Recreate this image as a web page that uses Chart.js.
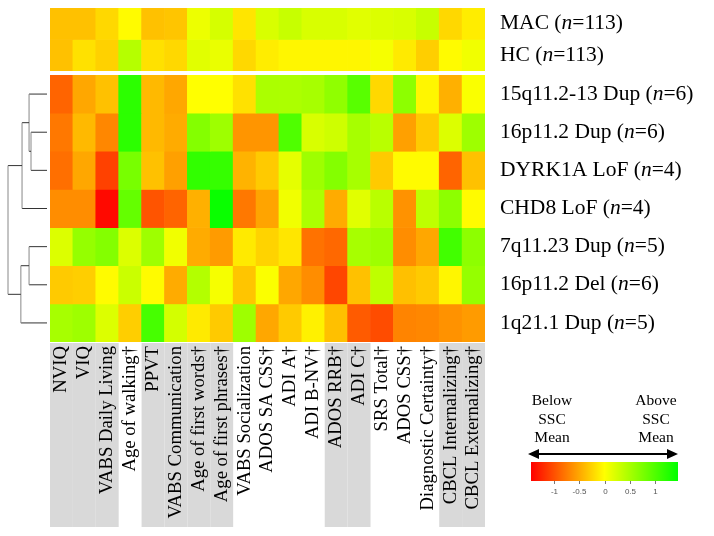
<!DOCTYPE html>
<html>
<head>
<meta charset="utf-8">
<script src="https://cdn.jsdelivr.net/npm/chart.js@4.4.1/dist/chart.umd.min.js"></script>
<style>
  body { margin: 0; background: #fff; }
  #wrap { position: relative; width: 714px; height: 536px; }
  canvas { position: absolute; left: 0; }
  #top { top: 0; }
  #bottom { top: 73px; }
</style>
</head>
<body>
<div id="wrap">
  <canvas id="top" width="714" height="73"></canvas>
  <canvas id="bottom" width="714" height="463"></canvas>
</div>
<script>
// Measures (heatmap columns)
const measures = [
  'NVIQ', 'VIQ', 'VABS Daily Living', 'Age of walking†', 'PPVT',
  'VABS Communication', 'Age of first words†', 'Age of first phrases†',
  'VABS Socialization', 'ADOS SA CSS†', 'ADI A†', 'ADI B-NV†', 'ADOS RRB†',
  'ADI C†', 'SRS Total†', 'ADOS CSS†', 'Diagnostic Certainty†',
  'CBCL Internalizing†', 'CBCL Externalizing†',
];
// domain grouping shown as grey bands behind the labels
const shadedMeasures = [1, 1, 1, 0, 1, 1, 1, 1, 0, 0, 0, 0, 1, 1, 0, 0, 0, 1, 1];

// Reference groups (top block)
const refGroups = ['MAC', 'HC'];
const refN = [113, 113];

// CNV / gene groups (bottom block, dendrogram order)
const cnvGroups = [
  '15q11.2-13 Dup', '16p11.2 Dup', 'DYRK1A LoF', 'CHD8 LoF',
  '7q11.23 Dup', '16p11.2 Del', '1q21.1 Dup',
];
const cnvN = [6, 6, 4, 4, 5, 6, 5];

// Difference from SSC mean (SD units), one value per measure
const mac    = [-0.35, -0.35, -0.22, -0.02, -0.35, -0.33, 0.10, 0.24, -0.15, 0.22, 0.32, 0.22, 0.22, 0.17, 0.20, 0.22, 0.32, -0.22, -0.10];
const hc     = [-0.35, -0.17, -0.26, 0.42, -0.17, -0.22, 0.17, 0.12, -0.22, -0.10, -0.05, -0.05, -0.05, -0.05, 0.05, -0.12, -0.28, -0.02, 0.08];
const dup15q = [-0.88, -0.50, -0.35, 1.20, -0.40, -0.50, 0.00, 0.00, -0.17, 0.48, 0.47, 0.50, 0.63, 0.95, -0.22, 0.65, -0.05, -0.45, 0.03];
const dup16p = [-0.77, -0.40, -0.68, 1.20, -0.40, -0.48, 0.70, 0.55, -0.60, -0.60, 1.00, 0.22, 0.28, 0.50, 0.40, -0.54, -0.30, 0.20, 0.55];
const dyrk1a = [-0.82, -0.50, -1.08, 0.77, -0.35, -0.54, 1.17, 1.15, -0.43, -0.30, 0.15, 0.55, 0.70, 0.50, -0.30, -0.02, -0.02, -0.88, -0.35];
const chd8   = [-0.65, -0.65, -1.40, 0.88, -0.97, -0.88, -0.45, 1.40, -0.77, -0.52, 0.08, 0.47, -0.48, 0.17, 0.40, -0.62, 0.37, 0.65, -0.02];
const dup7q  = [0.20, 0.60, 0.70, 0.20, 0.55, 0.08, -0.48, -0.57, -0.12, -0.25, -0.14, -0.80, -0.86, 0.50, 0.55, -0.65, -0.50, 1.08, 0.65];
const del16p = [-0.30, -0.28, -0.02, 0.30, -0.02, -0.48, 0.43, 0.05, -0.33, 0.02, -0.50, -0.65, -1.05, -0.35, 0.37, -0.36, -0.30, -0.05, 0.60];
const dup1q  = [0.50, 0.55, 0.20, -0.28, 1.05, 0.25, -0.12, -0.30, 0.55, -0.50, -0.30, -0.08, -0.36, -0.93, -1.02, -0.70, -0.68, -0.62, -0.57];

const refValues = [mac, hc];
const cnvValues = [dup15q, dup16p, dyrk1a, chd8, dup7q, del16p, dup1q];

// Hierarchical clustering of the CNV rows: [childA, childB, height]
// leaves are 0..6, each merge creates node 7, 8, ...
const linkage = [
  [1, 2, 0.41],
  [0, 7, 0.46],
  [8, 3, 0.64],
  [4, 5, 0.46],
  [10, 6, 0.67],
  [9, 11, 1.00],
];

// Colour key
const colorMin = -1.45;
const colorMax = 1.45;
const legendTicks = [-1, -0.5, 0, 0.5, 1];

const SERIF = "'Times New Roman', 'Liberation Serif', serif";

function heatColor(v) {
  if (v < 0) {
    const t = Math.min(1, v / colorMin);
    return `rgb(255, ${Math.round(255 * (1 - t))}, 0)`;
  }
  const t = Math.min(1, v / colorMax);
  return `rgb(${Math.round(255 * (1 - t))}, 255, 0)`;
}

// one floating-bar dataset per row, spanning [row, row + 1] on the y scale
function heatDatasets(rows) {
  return rows.map((vals, r) => ({
    data: vals.map(() => [r, r + 1]),
    backgroundColor: vals.map(heatColor),
    borderWidth: 0,
    grouped: false,
    barPercentage: 1,
    categoryPercentage: 1,
  }));
}

// Row labels with italic "n"
const rowLabelPlugin = {
  id: 'rowLabels',
  afterDraw(chart, args, opts) {
    const { ctx, chartArea, scales: { y } } = chart;
    ctx.save();
    ctx.fillStyle = '#000';
    ctx.textBaseline = 'middle';
    opts.names.forEach((name, r) => {
      let x = chartArea.right + 15;
      const yy = y.getPixelForValue(r + 0.5);
      const parts = [[name + ' (', ''], ['n', 'italic '], ['=' + opts.counts[r] + ')', '']];
      parts.forEach(([txt, style]) => {
        ctx.font = `${style}21.5px ${SERIF}`;
        ctx.fillText(txt, x, yy);
        x += ctx.measureText(txt).width;
      });
    });
    ctx.restore();
  },
};

// Grey bands behind the measure labels
const bandPlugin = {
  id: 'bands',
  beforeDraw(chart) {
    const { ctx, chartArea, scales: { x } } = chart;
    const w = x.getPixelForValue(1) - x.getPixelForValue(0);
    ctx.save();
    ctx.fillStyle = '#d9d9d9';
    shadedMeasures.forEach((s, i) => {
      if (!s) return;
      const cx = x.getPixelForValue(i);
      ctx.fillRect(cx - w / 2, chartArea.bottom + 1, w, 184);
    });
    ctx.restore();
  },
};

// Dendrogram on the left of the CNV block
const dendroPlugin = {
  id: 'dendro',
  afterDraw(chart) {
    const { ctx, chartArea, scales: { y } } = chart;
    const tipX = chartArea.left - 3;
    const span = 39;
    const nodes = cnvGroups.map((g, r) => ({ x: tipX, y: y.getPixelForValue(r + 0.5) }));
    ctx.save();
    ctx.lineWidth = 1;
    linkage.forEach(([a, b, h]) => {
      const mx = tipX - h * span;
      const A = nodes[a], B = nodes[b];
      ctx.strokeStyle = '#333';
      ctx.beginPath();
      ctx.moveTo(A.x, A.y); ctx.lineTo(mx, A.y);
      ctx.moveTo(B.x, B.y); ctx.lineTo(mx, B.y);
      ctx.stroke();
      ctx.strokeStyle = '#888';
      ctx.beginPath();
      ctx.moveTo(mx, A.y); ctx.lineTo(mx, B.y);
      ctx.stroke();
      nodes.push({ x: mx, y: (A.y + B.y) / 2 });
    });
    ctx.restore();
  },
};

// Colour key, bottom right
const keyPlugin = {
  id: 'colorKey',
  afterDraw(chart) {
    const { ctx } = chart;
    const left = 531, right = 678, top = 389, h = 19;
    const px = v => left + (v - colorMin) / (colorMax - colorMin) * (right - left);
    ctx.save();
    const grad = ctx.createLinearGradient(left, 0, right, 0);
    grad.addColorStop(0, heatColor(colorMin));
    grad.addColorStop(0.5, heatColor(0));
    grad.addColorStop(1, heatColor(colorMax));
    ctx.fillStyle = grad;
    ctx.fillRect(left, top, right - left, h);
    ctx.strokeStyle = '#777';
    ctx.lineWidth = 1;
    ctx.font = '8px Arial, sans-serif';
    ctx.fillStyle = '#555';
    ctx.textAlign = 'center';
    ctx.textBaseline = 'middle';
    legendTicks.forEach(t => {
      const x = Math.round(px(t)) + 0.5;
      ctx.beginPath();
      ctx.moveTo(x, top + h); ctx.lineTo(x, top + h + 3);
      ctx.stroke();
      ctx.fillText(String(t), x, top + h + 11);
    });

    // double-headed arrow
    const ay = 381;
    ctx.strokeStyle = '#000';
    ctx.fillStyle = '#000';
    ctx.lineWidth = 2;
    ctx.beginPath();
    ctx.moveTo(536, ay); ctx.lineTo(670, ay);
    ctx.stroke();
    ctx.beginPath();
    ctx.moveTo(528, ay); ctx.lineTo(539, ay - 5); ctx.lineTo(539, ay + 5); ctx.closePath();
    ctx.moveTo(678, ay); ctx.lineTo(667, ay - 5); ctx.lineTo(667, ay + 5); ctx.closePath();
    ctx.fill();

    ctx.font = `15.5px ${SERIF}`;
    ctx.textBaseline = 'alphabetic';
    ['Below', 'SSC', 'Mean'].forEach((s, i) => ctx.fillText(s, 552, 332 + i * 18.5));
    ['Above', 'SSC', 'Mean'].forEach((s, i) => ctx.fillText(s, 656, 332 + i * 18.5));
    ctx.restore();
  },
};

Chart.defaults.font.family = SERIF;
Chart.defaults.color = '#000';

function heatChart(canvas, { rows, names, counts, padding, showMeasures, plugins }) {
  return new Chart(canvas, {
    type: 'bar',
    data: { labels: measures, datasets: heatDatasets(rows) },
    options: {
      responsive: false,
      animation: false,
      events: [],
      layout: { padding },
      scales: {
        x: {
          type: 'category',
          display: showMeasures,
          grid: { display: false, drawTicks: false },
          border: { display: false },
          ticks: {
            autoSkip: false,
            minRotation: 90,
            maxRotation: 90,
            padding: 4,
            color: '#000',
            font: { size: 18.7, family: SERIF },
          },
          afterFit(scale) {
            if (showMeasures) scale.height = 194;
          },
        },
        y: {
          type: 'linear',
          min: 0,
          max: rows.length,
          reverse: true,
          display: false,
        },
      },
      plugins: {
        legend: { display: false },
        tooltip: { enabled: false },
        rowLabels: { names, counts },
      },
    },
    plugins: [rowLabelPlugin, ...plugins],
  });
}

heatChart(document.getElementById('top'), {
  rows: refValues,
  names: refGroups,
  counts: refN,
  padding: { left: 50, right: 229, top: 8, bottom: 2 },
  showMeasures: false,
  plugins: [],
});

heatChart(document.getElementById('bottom'), {
  rows: cnvValues,
  names: cnvGroups,
  counts: cnvN,
  padding: { left: 50, right: 229, top: 2, bottom: 0 },
  showMeasures: true,
  plugins: [bandPlugin, dendroPlugin, keyPlugin],
});
</script>
</body>
</html>
